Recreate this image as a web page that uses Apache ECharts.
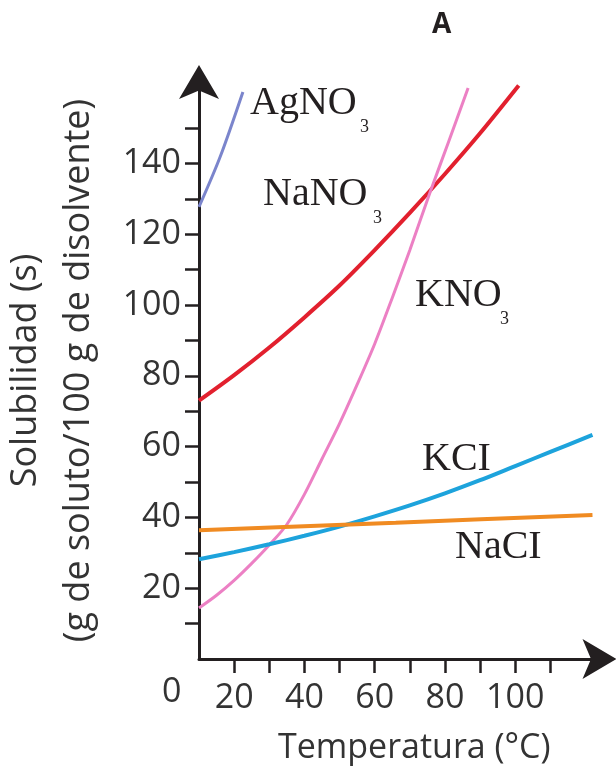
<!DOCTYPE html>
<html>
<head>
<meta charset="utf-8">
<script src="https://cdn.jsdelivr.net/npm/echarts@6/dist/echarts.min.js"></script>
<style>html,body{margin:0;padding:0;background:#fff}#c{width:616px;height:771px}</style>
</head>
<body>
<div id="c"></div>
<script>
// ---- data (x = temperature in axis units, y = solubility) ----
const agno3 = [[10,127.7],[16,141.8],[22.5,160.2]];
const nano3 = [[10,73],[20,80.2],[30,88],[40,96.5],[50,105.5],[60,115.5],[70,126],[80,137],[90,148.5],[101,162]];
const kno3  = [[10,14.4],[15,18],[20,22.2],[25,27],[30,32.2],[35,38],[40,46.5],[45,56.5],[50,66.5],[55,77.5],[60,89],[65,102],[70,115.5],[75.8,131.9],[81,146],[86.6,161.3]];
const kcl   = [[10,28.2],[20,30.2],[30,32.4],[40,34.8],[50,37.4],[60,40.3],[70,43.4],[80,46.8],[90,50.5],[100,54.5],[110,58.5],[122,63.3]];
const nacl  = [[10,36.4],[66,38.5],[122,40.7]];

const xTickValues = [20,30,40,50,60,70,80,90,100,110];
const xTickLabels = [20,40,60,80,100];
const yTickValues = [10,20,30,40,50,60,70,80,90,100,110,120,130,140,150];
const yTickLabels = [20,40,60,80,100,120,140];

const ink = '#231f20';
const sans = 'Open Sans';
const serif = 'Liberation Serif';

function line(name, data, color, width) {
  return {
    name: name, type: 'line', data: data, smooth: 0.3, showSymbol: false,
    clip: false, silent: true,
    lineStyle: { color: color, width: width }
  };
}

function chem(x, y, main, subX, subY) {
  const items = [{
    type: 'text', left: x, top: y - 22,
    style: { text: main, font: '40px "' + serif + '"', fill: ink }
  }];
  if (subX !== undefined) {
    items.push({
      type: 'text', left: subX, top: subY - 11,
      style: { text: '3', font: '18px "' + serif + '"', fill: ink }
    });
  }
  return items;
}

const chart = echarts.init(document.getElementById('c'), null, { renderer: 'canvas' });
chart.setOption({
  animation: false,
  backgroundColor: '#ffffff',
  title: {
    text: 'A', left: 427, top: 6,
    textStyle: { fontSize: 28, fontWeight: 'bold', fontFamily: sans, color: ink }
  },
  grid: { left: 199, right: 16.5, top: 82, bottom: 112, containLabel: false, outerBoundsMode: 'none' },
  xAxis: {
    type: 'value', min: 10, max: 124,
    axisLine: { show: true, onZero: false, symbol: ['none', 'arrow'], symbolSize: [30, 34],
      symbolOffset: [0, 17], lineStyle: { color: ink, width: 3 } },
    axisTick: { show: true, customValues: xTickValues, length: 14, lineStyle: { color: ink, width: 2.5 } },
    axisLabel: { customValues: xTickLabels, margin: 22, fontSize: 34, fontFamily: sans, color: '#333' },
    splitLine: { show: false },
    name: 'Temperatura (°C)', nameLocation: 'middle', nameGap: 72,
    nameTextStyle: { fontSize: 34, fontFamily: sans, color: '#333', padding: [0, 0, 0, 30] }
  },
  yAxis: {
    type: 'value', min: 0, max: 163,
    axisLine: { show: true, onZero: false, symbol: ['none', 'arrow'], symbolSize: [30, 34],
      symbolOffset: [0, 17], lineStyle: { color: ink, width: 3 } },
    axisTick: { show: true, customValues: yTickValues, length: 14, lineStyle: { color: ink, width: 2.5 } },
    axisLabel: { customValues: yTickLabels, margin: 18, fontSize: 34, fontFamily: sans, color: '#333' },
    splitLine: { show: false },
    name: 'Solubilidad (s)\n(g de soluto/100 g de disolvente)', nameLocation: 'middle', nameRotate: 90,
    nameGap: 94,
    nameTextStyle: { fontSize: 36, fontFamily: sans, color: '#333', lineHeight: 53, align: 'center' }
  },
  series: [
    line('AgNO3', agno3, '#7b85cc', 3),
    line('NaNO3', nano3, '#e2202e', 4),
    line('KNO3', kno3, '#ec80c4', 3),
    line('KCl', kcl, '#1da3dc', 4),
    line('NaCl', nacl, '#f08b22', 4)
  ],
  graphic: [].concat(
    chem(250, 105, 'AgNO', 360, 129),
    chem(263, 196, 'NaNO', 373, 220),
    chem(415, 297, 'KNO', 500, 321),
    chem(422, 461, 'KCI'),
    chem(455, 549, 'NaCI'),
    [{ type: 'text', left: 162, top: 675, style: { text: '0', font: '34px "' + sans + '"', fill: '#333' } }]
  )
});
</script>
</body>
</html>
